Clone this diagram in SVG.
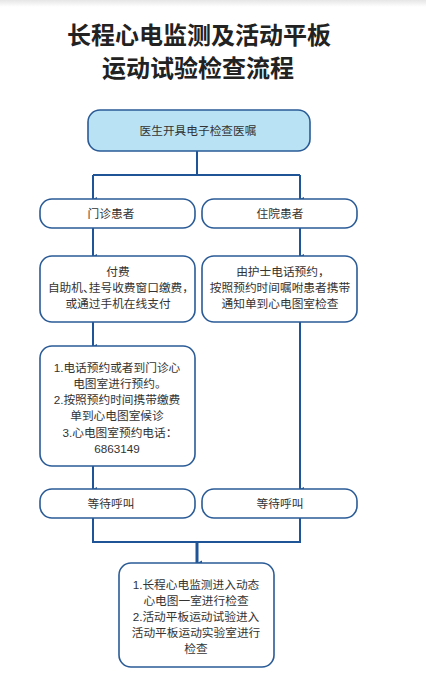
<svg xmlns="http://www.w3.org/2000/svg" width="426" height="698" viewBox="0 0 426 698">
<defs>
<linearGradient id="topg" x1="0" y1="0" x2="0" y2="1"><stop offset="0" stop-color="#e6e6e6"/><stop offset="1" stop-color="#ffffff"/></linearGradient>
<marker id="ah" viewBox="0 0 8 8" refX="4" refY="8" markerWidth="4" markerHeight="4" orient="auto-start-reverse" markerUnits="userSpaceOnUse"><path d="M0,0 L8,0 L4,8 Z" fill="#1f5597"/></marker>
<marker id="ah2" viewBox="0 0 8 8" refX="4" refY="8" markerWidth="6" markerHeight="5" orient="auto-start-reverse" markerUnits="userSpaceOnUse"><path d="M0,0 L8,0 L4,8 Z" fill="#1f5597"/></marker>
</defs>
<style>
.box{fill:#ffffff;stroke:#2a5b96;stroke-width:1.6}
.top{fill:#b9e3f4;stroke:#2a5b96;stroke-width:1.6}
.t{font-family:"Liberation Sans","Noto Sans CJK SC",sans-serif;font-size:11.7px;fill:#333333;text-anchor:middle;font-feature-settings:"halt"}
.title{font-family:"Liberation Sans","Noto Sans CJK SC",sans-serif;font-size:24px;font-weight:bold;fill:#222222;text-anchor:middle}
.ln{fill:none;stroke:#1f5597;stroke-width:2}
</style>
<rect x="0" y="0" width="426" height="7" fill="url(#topg)"/>
<text class="title" x="199" y="44">长程心电监测及活动平板</text>
<text class="title" x="198" y="77">运动试验检查流程</text>
<g id="connectors">
<path class="ln" d="M197,151 V175"/>
<path class="ln" d="M93,175 H300"/>
<path class="ln" d="M93,175 V199" marker-end="url(#ah)"/>
<path class="ln" d="M300,175 V199" marker-end="url(#ah)"/>
<path class="ln" d="M93,228 V256" marker-end="url(#ah)"/>
<path class="ln" d="M300,228 V256" marker-end="url(#ah)"/>
<path class="ln" d="M93,322 V346" marker-end="url(#ah)"/>
<path class="ln" d="M300,322 V489" marker-end="url(#ah)"/>
<path class="ln" d="M93,466 V489" marker-end="url(#ah)"/>
<path class="ln" d="M93,518 V542 H300 V518"/>
<path class="ln" style="stroke-width:3" d="M197,542 V563" marker-end="url(#ah2)"/>
</g>
<g id="n1"><rect class="top" x="88" y="110" width="222" height="41" rx="12"/><text class="t" x="198" y="134.5">医生开具电子检查医嘱</text></g>
<g id="n2"><rect class="box" x="40" y="199" width="155" height="29" rx="12"/><text class="t" x="111" y="217.5">门诊患者</text></g>
<g id="n3"><rect class="box" x="202" y="199" width="155" height="29" rx="12"/><text class="t" x="280" y="217.5">住院患者</text></g>
<g id="n4"><rect class="box" x="40" y="256" width="155" height="66" rx="12"/>
<text class="t" x="118" y="276">付费</text><text class="t" x="118" y="292">自助机、挂号收费窗口缴费，</text><text class="t" x="118" y="308">或通过手机在线支付</text></g>
<g id="n5"><rect class="box" x="202" y="256" width="155" height="66" rx="12"/>
<text class="t" x="280" y="276">由护士电话预约，</text><text class="t" x="280" y="292">按照预约时间嘱咐患者携带</text><text class="t" x="280" y="308">通知单到心电图室检查</text></g>
<g id="n6"><rect class="box" x="40" y="346" width="155" height="120" rx="12"/>
<text class="t" x="117" y="372">1.电话预约或者到门诊心</text><text class="t" x="117" y="388">电图室进行预约。</text><text class="t" x="117" y="404">2.按照预约时间携带缴费</text><text class="t" x="117" y="420">单到心电图室候诊</text><text class="t" x="117" y="437">3.心电图室预约电话：</text><text class="t" x="117" y="453">6863149</text></g>
<g id="n7"><rect class="box" x="40" y="489" width="155" height="29" rx="12"/><text class="t" x="111" y="507.5">等待呼叫</text></g>
<g id="n8"><rect class="box" x="202" y="489" width="155" height="29" rx="12"/><text class="t" x="280" y="507.5">等待呼叫</text></g>
<g id="n9"><rect class="box" x="119" y="563" width="155" height="104" rx="12"/>
<text class="t" x="196" y="589">1.长程心电监测进入动态</text><text class="t" x="196" y="605">心电图一室进行检查</text><text class="t" x="196" y="621">2.活动平板运动试验进入</text><text class="t" x="196" y="637">活动平板运动实验室进行</text><text class="t" x="196" y="653">检查</text></g>
</svg>
